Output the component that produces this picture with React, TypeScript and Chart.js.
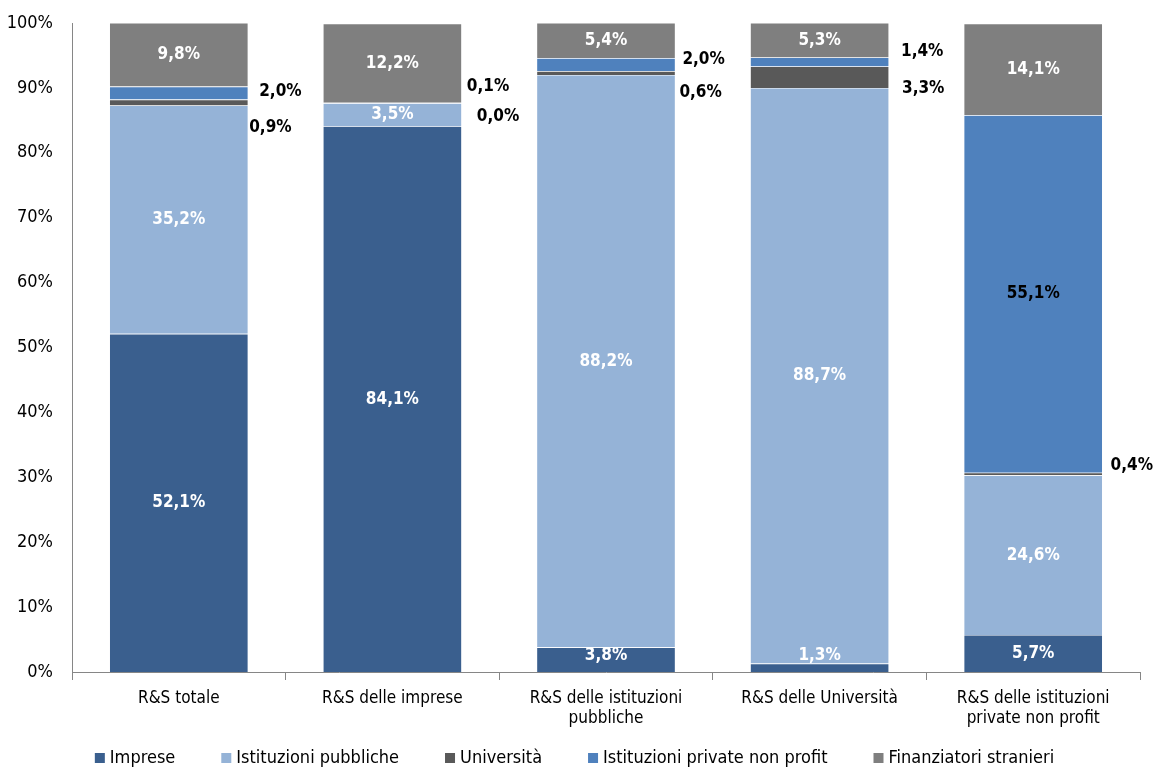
import React, { useEffect, useRef } from "react";
import { Chart, registerables } from "chart.js";

Chart.register(...registerables);

const categories: string[][] = [
  ["R&S totale"],
  ["R&S delle imprese"],
  ["R&S delle istituzioni", "pubbliche"],
  ["R&S delle Università"],
  ["R&S delle istituzioni", "private non profit"],
];

const seriesNames = [
  "Imprese",
  "Istituzioni pubbliche",
  "Università",
  "Istituzioni private non profit",
  "Finanziatori stranieri",
];

const imprese = [52.1, 84.1, 3.8, 1.3, 5.7];
const istituzioniPubbliche = [35.2, 3.5, 88.2, 88.7, 24.6];
const universita = [0.9, 0.0, 0.6, 3.3, 0.4];
const privateNonProfit = [2.0, 0.1, 2.0, 1.4, 55.1];
const finanziatoriStranieri = [9.8, 12.2, 5.4, 5.3, 14.1];

const yTicks = [0, 10, 20, 30, 40, 50, 60, 70, 80, 90, 100];

const colors = ["#3A5F8E", "#95B3D7", "#595959", "#4F81BD", "#7F7F7F"];

const FONT = "'Liberation Sans Narrow', 'Arial Narrow', 'DejaVu Sans Condensed', sans-serif";

// label nudges for small outside labels [dataset][category] => [dx, dy]
const outsideNudge: Record<string, [number, number]> = {
  "3-0": [11, -2],
  "2-0": [1, 25],
  "3-1": [5, -17],
  "2-1": [15, 13],
  "3-2": [7, -5],
  "2-2": [4, 20],
  "3-3": [12, -10],
  "2-3": [13, 11],
  "2-4": [8, -8],
};

const fmt = (v: number) => v.toFixed(1).replace(".", ",") + "%";

const labelPlugin = {
  id: "segLabels",
  afterDatasetsDraw(chart: any) {
    const ctx = chart.ctx;
    ctx.save();
    ctx.textBaseline = "middle";
    chart.data.datasets.forEach((ds: any, i: number) => {
      const meta = chart.getDatasetMeta(i);
      meta.data.forEach((el: any, j: number) => {
        const v = ds.data[j] as number;
        const key = `${i}-${j}`;
        const right = el.x + el.width / 2;
        const cy = (el.y + el.base) / 2;
        ctx.font = `bold 17px ${FONT}`;
        if (outsideNudge[key]) {
          const [dx, dy] = outsideNudge[key];
          ctx.fillStyle = "#000";
          ctx.textAlign = "left";
          ctx.fillText(fmt(v), right + dx, cy + dy);
        } else if (v >= 1) {
          ctx.fillStyle = i === 3 ? "#000" : "#fff";
          ctx.textAlign = "center";
          const y = Math.min(cy, chart.chartArea.bottom - 16);
          ctx.fillText(fmt(v), el.x, y);
        }
      });
    });
    ctx.restore();
  },
};

const legendPlugin = {
  id: "customLegend",
  afterDraw(chart: any) {
    const ctx = chart.ctx;
    ctx.save();
    ctx.font = `18px ${FONT}`;
    ctx.textBaseline = "middle";
    ctx.textAlign = "left";
    const box = 10;
    const gapBoxText = 5;
    const gapItems = 46;
    const widths = seriesNames.map((n) => box + gapBoxText + ctx.measureText(n).width);
    const total = widths.reduce((a, b) => a + b, 0) + gapItems * (widths.length - 1);
    let x = (chart.width - total) / 2 - 4;
    const y = 758;
    seriesNames.forEach((n, i) => {
      ctx.fillStyle = colors[i];
      ctx.fillRect(x, y - box / 2, box, box);
      ctx.fillStyle = "#000";
      ctx.fillText(n, x + box + gapBoxText, y);
      x += widths[i] + gapItems;
    });
    ctx.restore();
  },
};

export default function App() {
  const ref = useRef<HTMLCanvasElement>(null);
  useEffect(() => {
    document.body.style.margin = "0";
    const series = [imprese, istituzioniPubbliche, universita, privateNonProfit, finanziatoriStranieri];
    const chart = new Chart(ref.current!, {
      type: "bar",
      data: {
        labels: categories,
        datasets: series.map((d, i) => ({
          label: seriesNames[i],
          data: d,
          backgroundColor: colors[i],
          borderColor: "rgba(255,255,255,0.55)",
          borderWidth: 0.6,
          barPercentage: 0.65,
          categoryPercentage: 1,
        })),
      },
      options: {
        animation: false,
        responsive: false,
        maintainAspectRatio: false,
        layout: { padding: { top: 23, right: 17, left: 0, bottom: 0 } },
        plugins: {
          legend: { display: false },
          tooltip: { enabled: false },
        },
        scales: {
          x: {
            stacked: true,
            grid: {
              display: true,
              drawOnChartArea: false,
              drawTicks: true,
              tickLength: 8,
              offset: true,
              color: "#868686",
            },
            border: { display: true, color: "#868686", width: 1 },
            ticks: {
              color: "#000",
              font: { family: FONT, size: 17 },
              padding: 8,
              maxRotation: 0,
            },
            afterFit: (s: any) => {
              s.height = 97;
              s.paddingLeft = 0;
              s.paddingRight = 0;
            },
          },
          y: {
            stacked: true,
            min: 0,
            max: 100,
            grid: { display: false, drawTicks: false },
            border: { display: true, color: "#868686", width: 1 },
            ticks: {
              stepSize: 10,
              color: "#000",
              font: { family: FONT, size: 18 },
              padding: 19,
              callback: (v: any) => (yTicks.includes(Number(v)) ? v + "%" : ""),
            },
            afterFit: (s: any) => {
              s.width = 72;
              s.paddingTop = 0;
              s.paddingBottom = 0;
            },
          },
        },
      },
      plugins: [labelPlugin, legendPlugin],
    });
    return () => chart.destroy();
  }, []);
  return (
    <div style={{ width: 1157, height: 769 }}>
      <canvas ref={ref} width={1157} height={769} style={{ display: "block" }} />
    </div>
  );
}
